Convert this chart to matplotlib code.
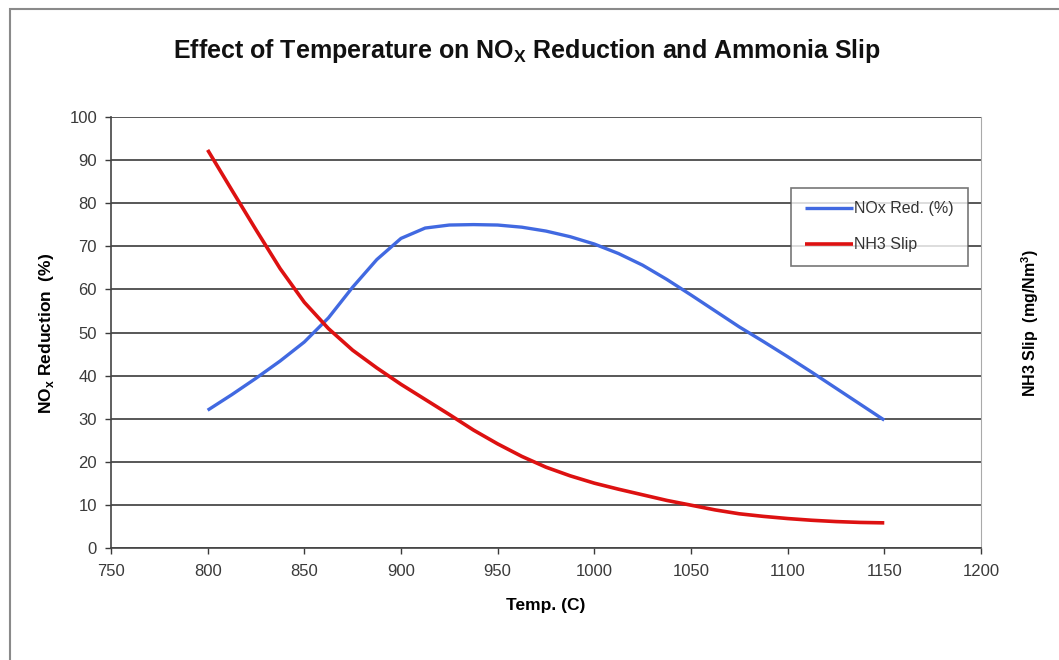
import matplotlib
matplotlib.use('Agg')
import matplotlib.pyplot as plt
from matplotlib.patches import Rectangle

plt.rcParams['font.family'] = ['Liberation Sans', 'DejaVu Sans']

# Data (every 12.5 C)
temp = [800, 812.5, 825, 837.5, 850, 862.5, 875, 887.5, 900, 912.5, 925, 937.5, 950, 962.5,
        975, 987.5, 1000, 1012.5, 1025, 1037.5, 1050, 1062.5, 1075, 1087.5, 1100, 1112.5,
        1125, 1137.5, 1150]
nox_red = [32.0, 35.6, 39.4, 43.4, 47.8, 53.4, 60.5, 66.9, 71.8, 74.2, 74.9, 75.0, 74.9, 74.4,
           73.5, 72.2, 70.5, 68.3, 65.6, 62.3, 58.7, 55.0, 51.3, 47.9, 44.4, 40.8,
           37.1, 33.4, 29.7]
nh3_slip = [92.3, 83.0, 73.8, 64.8, 57.0, 50.9, 45.9, 41.8, 38.0, 34.5, 31.0, 27.4, 24.2, 21.3,
            18.8, 16.8, 15.1, 13.7, 12.4, 11.1, 10.0, 8.9, 8.0, 7.4, 6.9, 6.5,
            6.2, 6.0, 5.9]

xticks = [750, 800, 850, 900, 950, 1000, 1050, 1100, 1150, 1200]
yticks = [0, 10, 20, 30, 40, 50, 60, 70, 80, 90, 100]

fig = plt.figure(figsize=(10.59, 6.60), dpi=100)
ax = fig.add_axes([0.1048, 0.1692, 0.8215, 0.654])

# outer frame of the chart
fig.patches.append(Rectangle((0.009, -0.1), 1.2, 1.1 - 9 / 660, transform=fig.transFigure,
                             fill=False, edgecolor='#8a8a8a', linewidth=1.5))

ax.plot(temp, nox_red, color='#4169e1', linewidth=2.4, label='NOx Red. (%)',
        solid_capstyle='butt', solid_joinstyle='round')
ax.plot(temp, nh3_slip, color='#dd1111', linewidth=2.6, label='NH3 Slip',
        solid_capstyle='butt', solid_joinstyle='round')

ax.set_xlim(750, 1200)
ax.set_ylim(0, 100)
ax.set_xticks(xticks)
ax.set_yticks(yticks)
ax.yaxis.grid(True, color='#4a4a4a', linewidth=1.3)
ax.set_axisbelow(True)
ax.tick_params(axis='both', labelsize=12, colors='#3a3a3a', length=4, width=1)
ax.tick_params(axis='x', pad=7)
ax.tick_params(axis='y', pad=6)

for s in ['left', 'bottom']:
    ax.spines[s].set_color('#444444')
    ax.spines[s].set_linewidth(1.2)
ax.spines['right'].set_color('#aaaaaa')
ax.spines['top'].set_visible(False)

fig.text(0.498, 1 - 51 / 660, 'Effect of Temperature on NO$_\\mathregular{X}$ Reduction and Ammonia Slip',
         ha='center', va='center', fontsize=18, fontweight='bold', color='#111111')
ax.set_xlabel('Temp. (C)', fontsize=12.5, fontweight='bold', labelpad=14)
fig.text(0.044, 0.495, 'NO$_\\mathregular{x}$ Reduction  (%)', rotation=90, ha='center', va='center',
         fontsize=12.5, fontweight='bold')
fig.text(0.973, 0.51, 'NH3 Slip  (mg/Nm$^\\mathregular{3}$)', rotation=90, ha='center', va='center',
         fontsize=11.5, fontweight='bold')

leg = ax.legend(loc='upper left', bbox_to_anchor=(0.782, 0.835), fontsize=11.5, frameon=True,
                fancybox=False, handlelength=3.0, handletextpad=0.1, borderpad=0.85,
                labelspacing=1.3, borderaxespad=0)
leg.get_frame().set_edgecolor('#555555')
leg.get_frame().set_linewidth(1.2)
for t in leg.get_texts():
    t.set_color('#333333')

fig.savefig('out.png', dpi=100)
